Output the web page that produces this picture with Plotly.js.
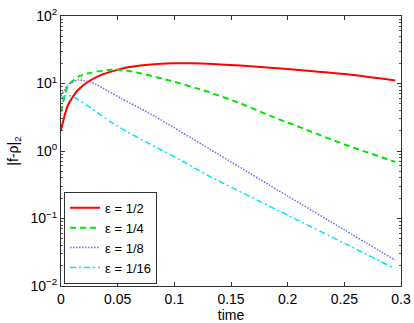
<!DOCTYPE html>
<html>
<head>
<meta charset="utf-8">
<script src="https://cdn.plot.ly/plotly-3.0.1.min.js"></script>
<style>
  html, body { margin: 0; padding: 0; background: #fff; }
  #chart { width: 414px; height: 323px; }
</style>
</head>
<body>
<div id="chart"></div>
<script>
// Values (log-scale y axis)
const tRed = [0, 0.0033, 0.0062, 0.0106, 0.015, 0.0238, 0.0356, 0.0474, 0.059, 0.07, 0.085, 0.1, 0.115, 0.13, 0.158, 0.2, 0.22, 0.25, 0.295];
const vRed = [2.05, 3.4, 4.8, 6.4, 8.0, 10.6, 13.4, 15.5, 17.4, 18.5, 19.4, 19.9, 19.9, 19.6, 18.4, 16.4, 15.3, 13.8, 11.1];

const tGreen = [0, 0.0033, 0.0062, 0.015, 0.0268, 0.0415, 0.05, 0.058, 0.07, 0.1, 0.129, 0.158, 0.187, 0.217, 0.25, 0.295];
const vGreen = [3.8, 6.7, 9.3, 12.6, 14.5, 15.9, 16.0, 15.5, 14.2, 10.6, 7.6, 5.1, 3.2, 2.05, 1.25, 0.69];

const tBlue = [0, 0.0062, 0.015, 0.02, 0.03, 0.0415, 0.054, 0.0697, 0.083, 0.1315, 0.2, 0.25, 0.295];
const vBlue = [6.5, 9.5, 11.3, 11.1, 9.9, 7.7, 5.9, 4.3, 3.25, 1.06, 0.215, 0.068, 0.024];

const tCyan = [0, 0.005, 0.0106, 0.0268, 0.0444, 0.059, 0.0753, 0.087, 0.105, 0.129, 0.2, 0.25, 0.292];
const vCyan = [6.0, 6.7, 6.4, 4.3, 2.65, 1.9, 1.35, 1.07, 0.74, 0.44, 0.112, 0.043, 0.019];

const seriesNames = ['ε = 1/2', 'ε = 1/4', 'ε = 1/8', 'ε = 1/16'];

const xTickVals = [0, 0.05, 0.1, 0.15, 0.2, 0.25, 0.3];
const xTickText = ['0', '0.05', '0.1', '0.15', '0.2', '0.25', '0.3'];
const yTickVals = [0.01, 0.1, 1, 10, 100];
const yTickText = ['10<sup>−2</sup>', '10<sup>−1</sup>', '10<sup>0</sup>', '10<sup>1</sup>', '10<sup>2</sup>'];

const FONT = 'Liberation Sans, Arial, sans-serif';

function makeTrace(x, y, name, color, dash, width) {
    return {
        x: x,
        y: y,
        name: name,
        type: 'scatter',
        mode: 'lines',
        line: { color: color, dash: dash, width: width, shape: 'spline', smoothing: 0.6 }
    };
}

const data = [
    makeTrace(tRed, vRed, seriesNames[0], '#ff0000', 'solid', 2),
    makeTrace(tGreen, vGreen, seriesNames[1], '#00e600', '6px,4px', 2),
    makeTrace(tBlue, vBlue, seriesNames[2], '#6a6aff', '1.5px,1.5px', 1.5),
    makeTrace(tCyan, vCyan, seriesNames[3], '#00e5ff', '6px,3px,2px,3px', 1.5)
];

const layout = {
    width: 414,
    height: 323,
    margin: { l: 61, r: 13, t: 16, b: 37 },
    paper_bgcolor: '#fff',
    plot_bgcolor: '#fff',
    font: { family: FONT, size: 14, color: '#000' },
    showlegend: true,
    legend: {
        x: 0.009, y: 0.008, xanchor: 'left', yanchor: 'bottom',
        bgcolor: '#fff', bordercolor: '#333', borderwidth: 1,
        font: { family: FONT, size: 13 },
        itemwidth: 30,
        tracegroupgap: 0
    },
    xaxis: {
        range: [0, 0.3],
        tickvals: xTickVals,
        ticktext: xTickText,
        ticks: 'inside',
        ticklen: 4,
        tickcolor: '#333',
        showline: true,
        linecolor: '#333',
        linewidth: 1,
        mirror: 'ticks',
        showgrid: false,
        zeroline: false,
        title: { text: 'time', standoff: 2, font: { size: 14 } }
    },
    yaxis: {
        type: 'log',
        range: [-2, 2],
        tickvals: yTickVals,
        ticktext: yTickText,
        ticks: 'inside',
        ticklen: 4,
        tickcolor: '#333',
        minor: { ticks: 'inside', ticklen: 2, tickcolor: '#555', dtick: 'D1', showgrid: false },
        showline: true,
        linecolor: '#333',
        linewidth: 1,
        mirror: 'ticks',
        showgrid: false,
        zeroline: false,
        title: { text: '|f-ρ|<sub>2</sub>', standoff: 8, font: { size: 14 } }
    }
};

Plotly.newPlot('chart', data, layout, { staticPlot: true, displayModeBar: false });
</script>
</body>
</html>
